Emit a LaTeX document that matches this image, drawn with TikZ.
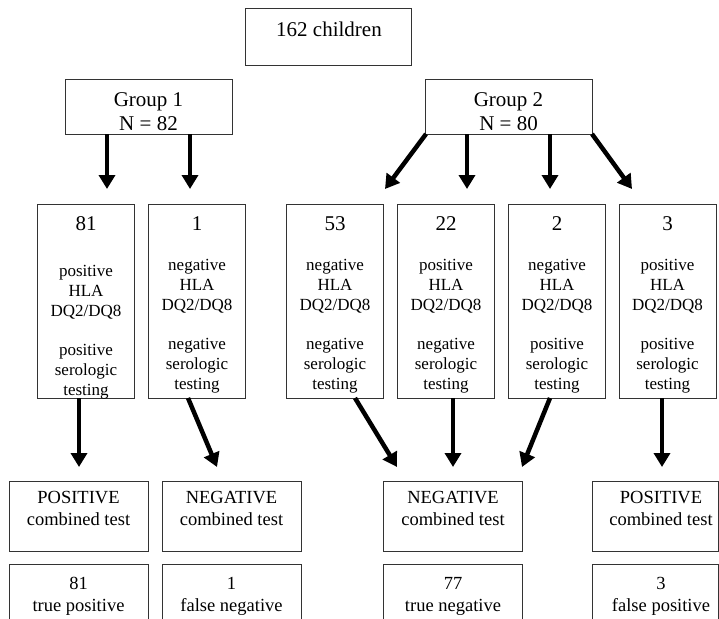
\documentclass[tikz,border=0pt]{standalone}
\usepackage{fontspec}
\setmainfont{Liberation Serif}
\usetikzlibrary{arrows.meta}
\begin{document}
\begin{tikzpicture}[x=1pt,y=-1pt,
  box/.style={draw=black!80, line width=1pt, inner sep=0pt, outer sep=0pt, rectangle},
  arr/.style={line width=4.5pt, -{Triangle[length=14pt,width=16pt]}},
  big/.style={font=\fontsize{21}{24}\selectfont, inner sep=0pt, anchor=base},
  mid/.style={font=\fontsize{17}{19}\selectfont, inner sep=0pt, anchor=base},
  low/.style={font=\fontsize{18.5}{22}\selectfont, inner sep=0pt, anchor=base}]
\useasboundingbox (0,0) rectangle (719,618);
\clip (0,0) rectangle (719,618);

% top
\node[box, minimum width=166pt, minimum height=56pt] (top) at (328,37) {};
\node[big] (toptext) at (329,37) {162 children};

% groups
\node[box, minimum width=167pt, minimum height=55pt] (g1) at (148.5,106.5) {};
\node[big] (g1a) at (148.5,106) {Group 1};
\node[big] (g1b) at (148.5,130) {N = 82};
\node[box, minimum width=167pt, minimum height=55pt] (g2) at (508.5,106.5) {};
\node[big] (g2a) at (508.5,106) {Group 2};
\node[big] (g2b) at (508.5,130) {N = 80};

% middle boxes
\foreach \n/\x/\d/\num/\h/\s in {1/86/6/81/positive/positive, 2/197/0/1/negative/negative, 3/335/0/53/negative/negative, 4/446/0/22/positive/negative, 5/557/0/2/negative/positive, 6/667.5/0/3/positive/positive}{
  \node[box, minimum width=97pt, minimum height=194pt] (m\n) at (\x,301) {};
  \begin{scope}
    \clip (m\n.south west) rectangle (m\n.north east);
    \node[big] (m\n-num) at (\x,230) {\num};
    \node[mid] (m\n-a) at (\x,270.5+\d) {\h};
    \node[mid] (m\n-b) at (\x,290.3+\d) {HLA};
    \node[mid] (m\n-c) at (\x,310.1+\d) {DQ2/DQ8};
    \node[mid] (m\n-d) at (\x,349.7+\d) {\s};
    \node[mid] (m\n-e) at (\x,369.5+\d) {serologic};
    \node[mid] (m\n-f) at (\x,389.3+\d) {testing};
  \end{scope}
}

% combined test boxes
\node[box, minimum width=139pt, minimum height=70pt] (b1) at (78.5,516) {};
\node[low] (b1a) at (78.5,503) {POSITIVE};
\node[low] (b1b) at (78.5,525) {combined test};
\node[box, minimum width=139pt, minimum height=70pt] (b2) at (231.5,516) {};
\node[low] (b2a) at (231.5,503) {NEGATIVE};
\node[low] (b2b) at (231.5,525) {combined test};
\node[box, minimum width=139pt, minimum height=70pt] (b3) at (453,516) {};
\node[low] (b3a) at (453,503) {NEGATIVE};
\node[low] (b3b) at (453,525) {combined test};
\node[box, minimum width=126pt, minimum height=70pt] (b4) at (655,516) {};
\node[low] (b4a) at (661,503) {POSITIVE};
\node[low] (b4b) at (661,525) {combined test};

% result boxes
\node[box, minimum width=139pt, minimum height=70pt] (r1) at (78.5,599) {};
\node[low] (r1a) at (78.5,589) {81};
\node[low] (r1b) at (78.5,611) {true positive};
\node[box, minimum width=139pt, minimum height=70pt] (r2) at (231.5,599) {};
\node[low] (r2a) at (231.5,589) {1};
\node[low] (r2b) at (231.5,611) {false negative};
\node[box, minimum width=139pt, minimum height=70pt] (r3) at (453,599) {};
\node[low] (r3a) at (453,589) {77};
\node[low] (r3b) at (453,611) {true negative};
\node[box, minimum width=126pt, minimum height=70pt] (r4) at (655,599) {};
\node[low] (r4a) at (661,589) {3};
\node[low] (r4b) at (661,611) {false positive};

% arrow tips
\coordinate (t1) at (107,189);
\coordinate (t2) at (190,189);
\coordinate (t3) at (385,189);
\coordinate (t4) at (467,189);
\coordinate (t5) at (550,189);
\coordinate (t6) at (632,189);
\coordinate (u1) at (79,467);
\coordinate (u2) at (217,467);
\coordinate (u3) at (397,467);
\coordinate (u4) at (453,467);
\coordinate (u5) at (522,467);
\coordinate (u6) at (662,467);

\draw[arr] ([xshift=42pt]g1.south west) -- (t1);
\draw[arr] ([xshift=125pt]g1.south west) -- (t2);
\draw[arr] ([xshift=1pt]g2.south west) -- (t3);
\draw[arr] ([xshift=42pt]g2.south west) -- (t4);
\draw[arr] ([xshift=125pt]g2.south west) -- (t5);
\draw[arr] (g2.south east) -- (t6);

\draw[arr] ([xshift=41.5pt]m1.south west) -- (u1);
\draw[arr] ([xshift=39.5pt]m2.south west) -- (u2);
\draw[arr] ([xshift=68.5pt]m3.south west) -- (u3);
\draw[arr] ([xshift=55.5pt]m4.south west) -- (u4);
\draw[arr] ([xshift=41.5pt]m5.south west) -- (u5);
\draw[arr] ([xshift=43pt]m6.south west) -- (u6);
\end{tikzpicture}
\end{document}
